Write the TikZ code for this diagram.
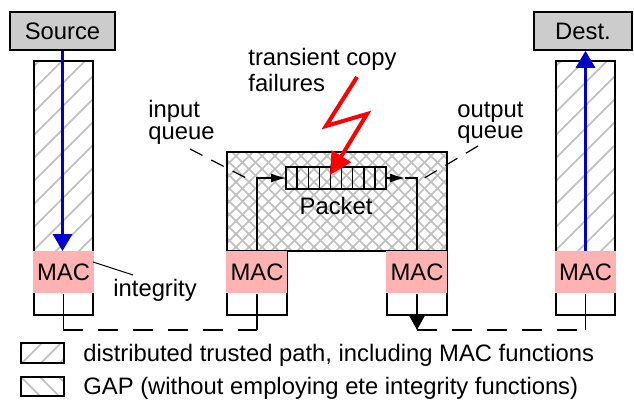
\documentclass[tikz,border=0pt]{standalone}
\usepackage{fontspec}
\setmainfont{Liberation Sans}
\usepackage{xcolor}
\usepackage{tikz}
\usetikzlibrary{positioning}
\usetikzlibrary{calc}
\usetikzlibrary{arrows.meta}

\definecolor{hostgray}{RGB}{204,204,204}
\definecolor{macpink}{RGB}{255,178,178}
\definecolor{hatchgray}{RGB}{190,190,190}
\definecolor{flowblue}{RGB}{0,0,204}

\begin{document}
\begin{tikzpicture}[x=0.5pt, y=-0.5pt, font=\fontsize{11.9}{13}\selectfont,
  host/.style={draw, fill=hostgray, line width=0.8pt, minimum height=19pt, inner sep=0pt},
  mac/.style={fill=macpink, minimum width=30.5pt, minimum height=21pt, inner sep=0pt},
  cell/.style={draw, line width=0.75pt, minimum width=5.556pt, minimum height=11pt, inner sep=0pt, outer sep=0pt},
  frame/.style={line width=0.9pt},
  hatchline/.style={hatchgray, line width=0.75pt},
  link/.style={line width=0.7pt},
  busline/.style={line width=0.7pt, dash pattern=on 10pt off 7.5pt},
  leader/.style={line width=0.6pt, dash pattern=on 7pt off 5pt},
  flow/.style={flowblue, line width=1.5pt, -{Triangle[length=8.5pt,width=9.5pt]}},
  bolt/.style={red, line width=2pt, miter limit=10, -{Triangle[length=11pt,width=11pt]}},
  lbl/.style={inner sep=0pt, align=left}]
\useasboundingbox (0,0) rectangle (634,401);
%%%%%%%%%%%%%% hatching
\begin{scope}
\clip (34,61) rectangle (93,251);
\foreach \y in {66,89,...,330} \draw[hatchline] (34,\y) -- ++(60,-60);
\end{scope}
\begin{scope}
\clip (556,61) rectangle (615,251);
\foreach \y in {66,89,...,330} \draw[hatchline] (556,\y) -- ++(60,-60);
\end{scope}
\begin{scope}
\clip (227,152) rectangle (447,251);
\foreach \x in {115,128,...,450} {
  \draw[hatchline] (\x,251) -- ++(110,-110);
  \draw[hatchline] (\x,152) -- ++(110,110);
}
\end{scope}
%%%%%%%%%%%%%% frames
\draw[frame] (34,61) rectangle (93,315);
\draw[frame] (556,61) rectangle (615,315);
\draw[frame] (227,152) rectangle (447,251);
\draw[frame] (227,251) rectangle (287,315);
\draw[frame] (387,251) rectangle (447,315);
%%%%%%%%%%%%%% nodes
\node[mac] (mac1) at (63.5,272.5) {MAC};
\node[mac] (mac2) at (257,272.5) {MAC};
\node[mac] (mac3) at (417,272.5) {MAC};
\node[mac] (mac4) at (585.5,272.5) {MAC};
\node[host, minimum width=52.5pt] (src) at (62.5,31) {Source};
\node[host, minimum width=49pt] (dst) at (583,31) {Dest.};
\node[cell] (q1) at (291.6,178) {};
\foreach \i [count=\j from 1] in {2,...,9}
  \node[cell, right=0pt of q\j] (q\i) {};
\node[lbl, below=4pt of q5] (pkt) {Packet};
%%%%%%%%%%%%%% links
\coordinate (bus) at (0,330);
\coordinate (busL) at (mac1.south |- bus);
\coordinate (busM) at (mac2.south |- bus);
\coordinate (busN) at (mac3.south |- bus);
\coordinate (busR) at (mac4.south |- bus);
\coordinate (outtip) at (405,178);
\draw[link, -{Latex[length=7.5pt,width=4.5pt]}] (mac2.north) |- (q1.west);
\draw[link, -{Latex[length=7.5pt,width=4.5pt]}] (q9.east) -- (outtip);
\draw[link] (outtip) -| (mac3.north);
\draw[link] (mac1.south) -- (busL);
\draw[busline] (busL) -- (busM);
\draw[link] (busM) -- (mac2.south);
\draw[link, -{Triangle[length=7pt,width=7.5pt]}] (mac3.south) -- (busN);
\draw[busline] (busN) -- (busR);
\draw[link] (busR) -- (mac4.south);
\draw[flow] (src.south) -- (src.south |- mac1.north);
\draw[flow] (mac4.north) -- (mac4.north |- dst.south);
%%%%%%%%%%%%%% failures
\coordinate (bolt0) at (357,77);
\coordinate (bolt1) at (326,126);
\coordinate (bolt2) at (367,114);
\coordinate (bolt3) at (330,175);
\draw[bolt] (bolt0) -- (bolt1) -- (bolt2) -- (bolt3);
%%%%%%%%%%%%%% labels
\node[lbl, anchor=base west, font=\fontsize{11.9}{13.3}\selectfont] (fault) at (248,92) {transient copy\\failures};
\node[lbl, anchor=base west, font=\fontsize{11.9}{11.2}\selectfont] (inq) at (148,140) {input\\queue};
\node[lbl, anchor=base west, font=\fontsize{11.9}{10.5}\selectfont] (outq) at (457,139) {output\\queue};
\node[lbl, anchor=base west] (integ) at (113,297) {integrity};
\coordinate (inq0) at (190,149);
\coordinate (inq1) at (250,180);
\coordinate (outq0) at (478,146);
\coordinate (outq1) at (421,180);
\coordinate (integ0) at (93,262);
\coordinate (integ1) at (133,275);
\draw[leader] (inq0) -- (inq1);
\draw[leader] (outq0) -- (outq1);
\draw[line width=0.5pt] (integ0) -- (integ1);
%%%%%%%%%%%%%% legend
\begin{scope}
\clip (21,343) rectangle (64,363);
\foreach \x in {3,22,41,60} \draw[hatchline] (\x,363) -- ++(20,-20);
\end{scope}
\begin{scope}
\clip (21,377) rectangle (64,396);
\foreach \x in {2,21,40,59} \draw[hatchline] (\x,377) -- ++(19,19);
\end{scope}
\draw[frame] (21,343) rectangle (64,363);
\draw[frame] (21,377) rectangle (64,396);
\node[lbl, anchor=base west] (leg1) at (83,362) {distributed trusted path, including MAC functions};
\node[lbl, anchor=base west] (leg2) at (83,395) {GAP (without employing ete integrity functions)};
\end{tikzpicture}
\end{document}
